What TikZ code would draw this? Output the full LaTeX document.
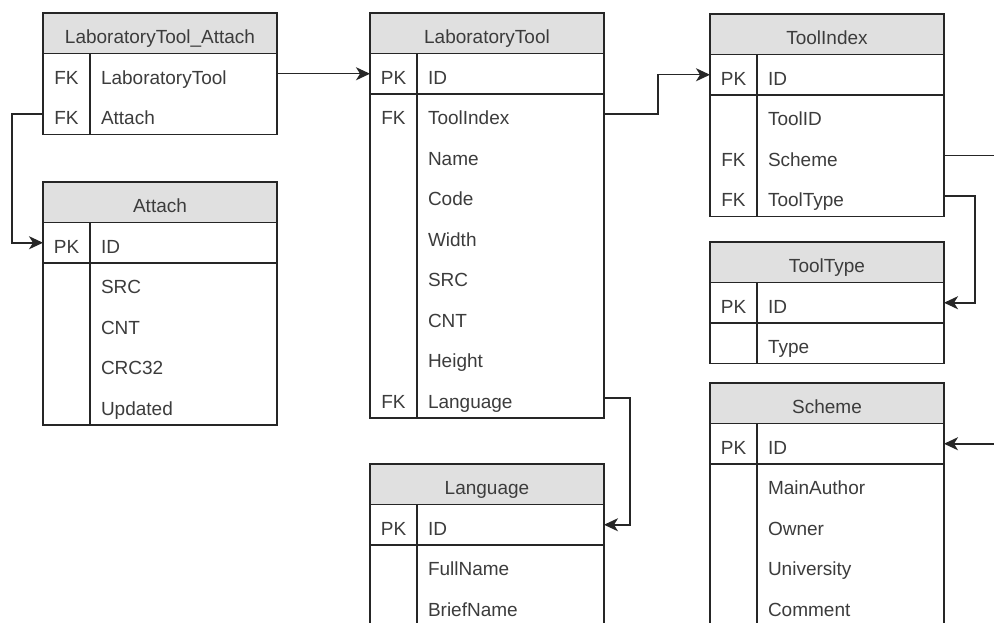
\documentclass[tikz,border=0pt]{standalone}
\usepackage{fontspec}
\setmainfont{Liberation Sans}
\usetikzlibrary{positioning,arrows.meta}
\definecolor{hdrgray}{RGB}{224,224,224}
\definecolor{inkgray}{RGB}{38,38,38}
\definecolor{txtgray}{RGB}{60,60,60}
\tikzset{
  tbl/.style={draw=inkgray, line width=1.4pt},
  hdr/.style={tbl, fill=hdrgray, anchor=north west, minimum width=234pt, minimum height=40.5pt, inner sep=0pt, outer sep=0pt, text height=21pt, text depth=0pt},
  keycell/.style={minimum width=47pt, minimum height=40.5pt, inner sep=0pt, outer sep=0pt, text height=21pt, text depth=0pt},
  fldcell/.style={text width=165pt, inner xsep=11pt, inner ysep=0pt, outer sep=0pt, minimum height=40.5pt, align=left, text height=21pt, text depth=0pt},
  rel/.style={draw=inkgray, line width=1.5pt, -{Stealth[length=14pt,width=13pt,inset=4pt]}},
}
\begin{document}
\begin{tikzpicture}[x=1pt, y=-1pt, font=\fontsize{19pt}{22pt}\selectfont, every node/.append style={text=txtgray}]
    \path[use as bounding box, fill=white] (0,0) rectangle (994,623);
    \clip (0,0) rectangle (994,623);

    \node[hdr] (lta) at (43,13) {LaboratoryTool\_Attach};
    \node[keycell, anchor=north west] (lta-fk1) at (lta.south west) {FK};
    \node[fldcell, right=0pt of lta-fk1] (lta-tool) {LaboratoryTool};
    \node[fldcell, below=0pt of lta-tool] (lta-attach) {Attach};
    \node[keycell, left=0pt of lta-attach] (lta-fk2) {FK};
    \draw[tbl] (lta.south west) rectangle (lta-attach.south east);
    \draw[tbl] (lta-tool.north west) -- (lta-attach.south west);

    \node[hdr] (at) at (43,182) {Attach};
    \node[keycell, anchor=north west] (at-pk) at (at.south west) {PK};
    \node[fldcell, right=0pt of at-pk] (at-id) {ID};
    \node[fldcell, below=0pt of at-id] (at-src) {SRC};
    \node[fldcell, below=0pt of at-src] (at-cnt) {CNT};
    \node[fldcell, below=0pt of at-cnt] (at-crc) {CRC32};
    \node[fldcell, below=0pt of at-crc] (at-upd) {Updated};
    \draw[tbl] (at.south west) rectangle (at-upd.south east);
    \draw[tbl] (at-id.north west) -- (at-upd.south west);
    \draw[tbl] (at-pk.south west) -- (at-id.south east);

    \node[hdr] (lt) at (370,13) {LaboratoryTool};
    \node[keycell, anchor=north west] (lt-pk) at (lt.south west) {PK};
    \node[fldcell, right=0pt of lt-pk] (lt-id) {ID};
    \node[fldcell, below=0pt of lt-id] (lt-toolindex) {ToolIndex};
    \node[keycell, left=0pt of lt-toolindex] (lt-fk1) {FK};
    \node[fldcell, below=0pt of lt-toolindex] (lt-name) {Name};
    \node[fldcell, below=0pt of lt-name] (lt-code) {Code};
    \node[fldcell, below=0pt of lt-code] (lt-width) {Width};
    \node[fldcell, below=0pt of lt-width] (lt-src) {SRC};
    \node[fldcell, below=0pt of lt-src] (lt-cnt) {CNT};
    \node[fldcell, below=0pt of lt-cnt] (lt-height) {Height};
    \node[fldcell, below=0pt of lt-height] (lt-lang) {Language};
    \node[keycell, left=0pt of lt-lang] (lt-fk2) {FK};
    \draw[tbl] (lt.south west) rectangle (lt-lang.south east);
    \draw[tbl] (lt-id.north west) -- (lt-lang.south west);
    \draw[tbl] (lt-pk.south west) -- (lt-id.south east);

    \node[hdr] (lg) at (370,464) {Language};
    \node[keycell, anchor=north west] (lg-pk) at (lg.south west) {PK};
    \node[fldcell, right=0pt of lg-pk] (lg-id) {ID};
    \node[fldcell, below=0pt of lg-id] (lg-full) {FullName};
    \node[fldcell, below=0pt of lg-full] (lg-brief) {BriefName};
    \draw[tbl] (lg.south west) rectangle (lg-brief.south east);
    \draw[tbl] (lg-id.north west) -- (lg-brief.south west);
    \draw[tbl] (lg-pk.south west) -- (lg-id.south east);

    \node[hdr] (ti) at (710,14) {ToolIndex};
    \node[keycell, anchor=north west] (ti-pk) at (ti.south west) {PK};
    \node[fldcell, right=0pt of ti-pk] (ti-id) {ID};
    \node[fldcell, below=0pt of ti-id] (ti-toolid) {ToolID};
    \node[fldcell, below=0pt of ti-toolid] (ti-scheme) {Scheme};
    \node[keycell, left=0pt of ti-scheme] (ti-fk1) {FK};
    \node[fldcell, below=0pt of ti-scheme] (ti-type) {ToolType};
    \node[keycell, left=0pt of ti-type] (ti-fk2) {FK};
    \draw[tbl] (ti.south west) rectangle (ti-type.south east);
    \draw[tbl] (ti-id.north west) -- (ti-type.south west);
    \draw[tbl] (ti-pk.south west) -- (ti-id.south east);

    \node[hdr] (tt) at (710,242) {ToolType};
    \node[keycell, anchor=north west] (tt-pk) at (tt.south west) {PK};
    \node[fldcell, right=0pt of tt-pk] (tt-id) {ID};
    \node[fldcell, below=0pt of tt-id] (tt-type) {Type};
    \draw[tbl] (tt.south west) rectangle (tt-type.south east);
    \draw[tbl] (tt-id.north west) -- (tt-type.south west);
    \draw[tbl] (tt-pk.south west) -- (tt-id.south east);

    \node[hdr] (sc) at (710,383) {Scheme};
    \node[keycell, anchor=north west] (sc-pk) at (sc.south west) {PK};
    \node[fldcell, right=0pt of sc-pk] (sc-id) {ID};
    \node[fldcell, below=0pt of sc-id] (sc-author) {MainAuthor};
    \node[fldcell, below=0pt of sc-author] (sc-owner) {Owner};
    \node[fldcell, below=0pt of sc-owner] (sc-univ) {University};
    \node[fldcell, below=0pt of sc-univ] (sc-comment) {Comment};
    \draw[tbl] (sc.south west) rectangle (sc-comment.south east);
    \draw[tbl] (sc-id.north west) -- (sc-comment.south west);
    \draw[tbl] (sc-pk.south west) -- (sc-id.south east);

    \draw[rel] (lta-tool.east) -- (lt-pk.west);
    \draw[rel] (lta-fk2.west) -- ++(-31,0) |- (at-pk.west);
    \draw[rel] (lt-toolindex.east) -- ++(54,0) |- (ti-pk.west);
    \draw[rel] (lt-lang.east) -- ++(26,0) |- (lg-id.east);
    \draw[rel] (ti-type.east) -- ++(31,0) |- (tt-id.east);
    \draw[rel] (ti-scheme.east) -- ++(70,0) |- (sc-id.east);
\end{tikzpicture}
\end{document}
